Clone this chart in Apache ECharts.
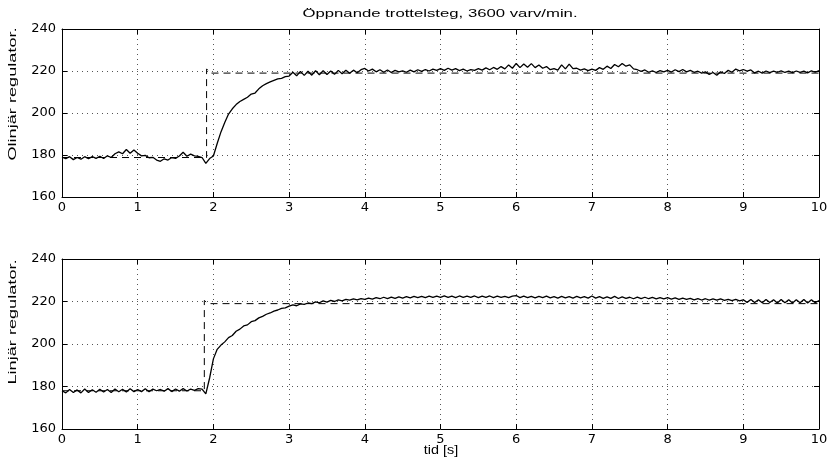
<!DOCTYPE html>
<html>
<head>
<meta charset="utf-8">
<script src="https://cdn.jsdelivr.net/npm/echarts@6/dist/echarts.min.js"></script>
<style>
html,body{margin:0;padding:0;background:#fff;}
#chart{width:831px;height:464px;}
</style>
</head>
<body>
<div id="chart"></div>
<script>
// ---- data ----
const titleText = "Öppnande trottelsteg, 3600 varv/min.";
const yLabelTop = "Olinjär regulator.";
const yLabelBottom = "Linjär regulator.";
const xLabel = "tid [s]";
const xTicks = [0,1,2,3,4,5,6,7,8,9,10];
const yTicks = [160,180,200,220,240];
const sampleStep = 0.05; // seconds between samples

// Non-linear regulator (top), sampled every 0.05 s from 0 to 10 s
const olinjar = [
  179,178.3,179.2,177.8,178.8,178,179.2,178.2,179.2,178.4,179.4,178.3,179.6,178.8,180.6,181.5,180.6,182.6,180.8,182.4,
  180.8,179.6,179.8,178.7,178.9,177.6,177,178.2,177.6,178.8,178.4,179.5,181.3,179.4,180.4,179.6,179.3,178.8,176,178.3,
  179.5,185.5,191,195.5,199.5,202,204,205.5,206.5,207.5,209,209.5,211.5,213,214,214.8,215.5,216.2,216.5,217.3,
  217.6,219.4,217.7,219.8,217.9,219.9,218,220.1,218.2,220.2,218.3,220,218.4,220.3,218.7,220.4,218.9,220.4,219.2,220.6,
  221.2,220,220.9,219.6,220.6,219.4,220.5,219.3,220.3,219.6,220.1,219.4,220.4,219.6,220.6,219.8,220.7,220,220.9,220.3,
  221.1,220.3,221.3,220.4,221.1,220.2,220.9,220,220.7,220.3,221.1,220.4,221.5,220.6,221.7,220.8,222.1,221,222.9,221.3,
  223.6,221.6,223.3,221.8,223.5,221.6,222.9,221.3,222.1,220.6,221.1,220.4,222.9,221,223.3,221.1,221.3,220.4,221,220.2,
  220.9,220.3,221.6,220.8,222.3,221.2,223.1,222,223.6,222.3,222.9,221,220.6,219.8,220.5,219.4,220.1,219.3,220.2,219.6,
  220.3,219.5,220.6,219.7,220.7,219.6,220.3,219.4,219.9,219,219.6,218.4,219.3,218,219.6,218.8,220.3,219.4,220.9,220.1,
  220.7,219.9,220.5,219.1,219.9,219,220,219.2,219.9,219.4,220.1,219.3,219.9,219.2,220,219.3,219.9,219.1,220.1,219.4,
  220.2
];

// Linear regulator (bottom), sampled every 0.05 s from 0 to 10 s
const linjar = [
  178,177,178.6,177.2,178.4,177,178.8,177.2,178.5,177.3,178.7,177.4,178.6,177.2,178.8,177.5,178.7,177.4,178.9,177.6,
  178.6,177.6,178.9,177.5,178.8,178,178.6,177.8,179,177.6,178.8,177.8,179,177.9,178.8,178.2,179,178.8,176.5,184,
  193,197.5,199.5,201,203,204,206,207,208.5,209,210.5,211,212.3,213,214,214.6,215.5,216,216.8,217,
  217.8,218.4,218,218.9,218.6,219.3,219,219.8,219.4,220.3,219.7,220.5,220,220.8,220.3,221,220.6,221.2,220.8,221.4,
  221,221.6,221.1,221.8,221.3,222,221.4,222.1,221.5,222.2,221.6,222.3,221.7,222.4,221.8,222.4,221.8,222.5,221.9,222.5,
  221.9,222.6,221.9,222.5,221.8,222.6,221.9,222.5,221.9,222.6,221.8,222.5,221.9,222.6,221.8,222.5,221.9,222.4,221.8,222.5,
  222.8,221.8,222.5,221.8,222.4,221.7,222.4,221.8,222.5,221.7,222.3,221.6,222.4,221.7,222.3,221.6,222.4,221.7,222.3,221.6,
  222.6,221.6,222.3,221.5,222.2,221.5,222.4,221.4,222.2,221.5,222,221.3,222.1,221.4,222,221.3,221.9,221.2,221.8,221.2,
  221.8,221.1,221.7,221,221.6,221,221.5,220.8,221.4,220.7,221.3,220.6,221.2,220.6,221.2,220.5,221,220.4,221,220.3,
  220.8,219.6,220.9,219.5,220.8,219.4,220.9,219.5,220.8,219.3,220.9,219.4,220.8,219.3,220.8,219.4,220.9,219.3,220.8,219.4,
  220.5
];

// Reference (set point) signals, dashed
const refTopT = [0, 1.91, 1.91, 1.93, 1.96, 10];
const refTopV = [178.8, 178.8, 221, 221, 219, 219];
const refBotT = [0, 1.88, 1.88, 1.90, 1.93, 10];
const refBotV = [178, 178, 220.5, 220.5, 219, 219];

// ---- build ----
const pairs = (arr) => arr.map((v, i) => [+(i * sampleStep).toFixed(2), v]);
const zip = (ts, vs) => ts.map((t, i) => [t, vs[i]]);

const FONT = "'DejaVu Sans', 'Liberation Sans', sans-serif";
const grids = [
  {left: 62, top: 29, width: 757, height: 168},
  {left: 62, top: 259, width: 757, height: 170}
];

const gridLine = {show: true, lineStyle: {color: '#555', width: 1, type: [1, 4]}};

function xMain(gi) {
  return {
    type: 'value', gridIndex: gi, min: 0, max: 10, interval: 1, position: 'bottom',
    axisLine: {show: true, onZero: false, lineStyle: {color: '#000', width: 1}},
    axisTick: {show: true, inside: true, length: 5, lineStyle: {color: '#000'}},
    axisLabel: {show: true, color: '#000', fontSize: 13, fontFamily: FONT, margin: 4,
      formatter: (v) => xTicks.includes(v) ? String(v) : ''},
    splitLine: gridLine
  };
}
function xTop(gi) {
  return {
    type: 'value', gridIndex: gi, min: 0, max: 10, interval: 1, position: 'top',
    axisLine: {show: true, onZero: false, lineStyle: {color: '#000', width: 1}},
    axisTick: {show: true, inside: true, length: 5, lineStyle: {color: '#000'}},
    axisLabel: {show: false}, splitLine: {show: false}
  };
}
function yMain(gi) {
  return {
    type: 'value', gridIndex: gi, min: 160, max: 240, interval: 20, position: 'left',
    axisLine: {show: true, onZero: false, lineStyle: {color: '#000', width: 1}},
    axisTick: {show: true, inside: true, length: 5, lineStyle: {color: '#000'}},
    axisLabel: {show: true, color: '#000', fontSize: 13, fontFamily: FONT, margin: 6,
      formatter: (v) => yTicks.includes(v) ? String(v) : ''},
    splitLine: gridLine
  };
}
function yRight(gi) {
  return {
    type: 'value', gridIndex: gi, min: 160, max: 240, interval: 20, position: 'right',
    axisLine: {show: true, onZero: false, lineStyle: {color: '#000', width: 1}},
    axisTick: {show: true, inside: true, length: 5, lineStyle: {color: '#000'}},
    axisLabel: {show: false}, splitLine: {show: false}
  };
}

const solidStyle = {color: '#000', width: 1.3};
const dashStyle = {color: '#000', width: 1, type: [7, 5]};
const labelFont = "11px 'Liberation Sans', sans-serif";

const option = {
  animation: false,
  backgroundColor: '#fff',
  grid: grids,
  xAxis: [xMain(0), xTop(0), xMain(1), xTop(1)],
  yAxis: [yMain(0), yRight(0), yMain(1), yRight(1)],
  series: [
    {type: 'line', xAxisIndex: 0, yAxisIndex: 0, data: zip(refTopT, refTopV), showSymbol: false, lineStyle: dashStyle, z: 2},
    {type: 'line', xAxisIndex: 0, yAxisIndex: 0, data: pairs(olinjar), showSymbol: false, lineStyle: solidStyle, z: 3},
    {type: 'line', xAxisIndex: 2, yAxisIndex: 2, data: zip(refBotT, refBotV), showSymbol: false, lineStyle: dashStyle, z: 2},
    {type: 'line', xAxisIndex: 2, yAxisIndex: 2, data: pairs(linjar), showSymbol: false, lineStyle: solidStyle, z: 3}
  ],
  graphic: [
    {type: 'text', x: 440, y: 14, scaleX: 1.52, scaleY: 1.05,
      style: {text: titleText, fill: '#000', font: "11px 'Liberation Sans', sans-serif",
        align: 'center', verticalAlign: 'middle'}},
    {type: 'text', x: 13, y: 94, rotation: Math.PI / 2, scaleX: 1.65, scaleY: 1.05,
      style: {text: yLabelTop, fill: '#000', font: labelFont,
        align: 'center', verticalAlign: 'middle'}},
    {type: 'text', x: 13, y: 322, rotation: Math.PI / 2, scaleX: 1.65, scaleY: 1.05,
      style: {text: yLabelBottom, fill: '#000', font: labelFont,
        align: 'center', verticalAlign: 'middle'}},
    {type: 'text', x: 441, y: 451, scaleX: 1.2, scaleY: 1.05,
      style: {text: xLabel, fill: '#000', font: "12px 'Liberation Sans', sans-serif", align: 'center', verticalAlign: 'middle'}}
  ]
};

const chart = echarts.init(document.getElementById('chart'), null, {renderer: 'canvas'});
chart.setOption(option);
</script>
</body>
</html>
